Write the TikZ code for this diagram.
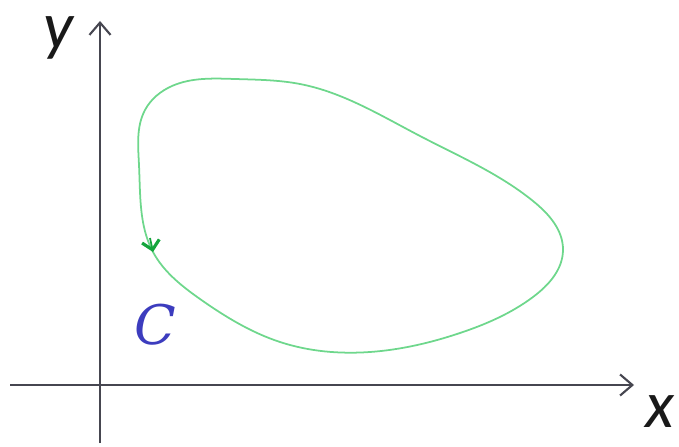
\documentclass[tikz,border=0pt]{standalone}
\usepackage{fontspec}
\setsansfont{Carlito}
\newfontfamily\curvefont{DejaVu Serif}
\usetikzlibrary{arrows.meta, positioning, hobby}
\definecolor{axisgray}{RGB}{70,70,80}
\definecolor{curvegreen}{RGB}{110,215,140}
\definecolor{tipgreen}{RGB}{20,165,60}
\definecolor{labelblue}{RGB}{60,60,190}

\begin{document}
\begin{tikzpicture}[
        x=0.02cm, y=-0.02cm,
        % Line styles
        axis/.style={draw=axisgray, line width=1.2pt, -{Straight Barb[length=7pt, width=12pt, line width=1.2pt]}},
        curve/.style={draw=curvegreen, line width=1pt},
        tiparrow/.style={draw=tipgreen, line width=1pt, -{Straight Barb[length=5pt, width=10pt, line width=1.8pt]}},
        axislabel/.style={font=\sffamily\itshape\fontsize{38}{38}\selectfont, text=black!90},
        curvelabel/.style={text=labelblue, font=\curvefont\itshape\fontsize{31}{31}\selectfont}
    ]

    % --- CANVAS ---
    \useasboundingbox (0,0) rectangle (679,446);

    % --- AXES ---
    \coordinate (xstart) at (10,385);
    \coordinate (xend) at (634,385);
    \coordinate (ystart) at (100,443);
    \coordinate (yend) at (100,21);
    \draw [axis] (xstart) -- (xend);
    \draw [axis] (ystart) -- (yend);

    \node (xlabel) [axislabel] at (660,412) {x};
    \node (ylabel) [axislabel] at (58,38) {y};

    % --- CLOSED CURVE C ---
    \draw [curve] plot [closed hobby] coordinates {
        (153,252) (200,299) (280,342) (370,352) (460,333) (533,297)
        (563,250) (533,201) (420,136) (300,84) (235,79) (172,86)
        (145,110) (139,165)};

    % direction mark on C
    \coordinate (tipfrom) at (150,238);
    \coordinate (tipto) at (153,252);
    \draw [tiparrow] (tipfrom) -- (tipto);

    \node (clabel) [curvelabel] at (155,325) {C};

\end{tikzpicture}
\end{document}
